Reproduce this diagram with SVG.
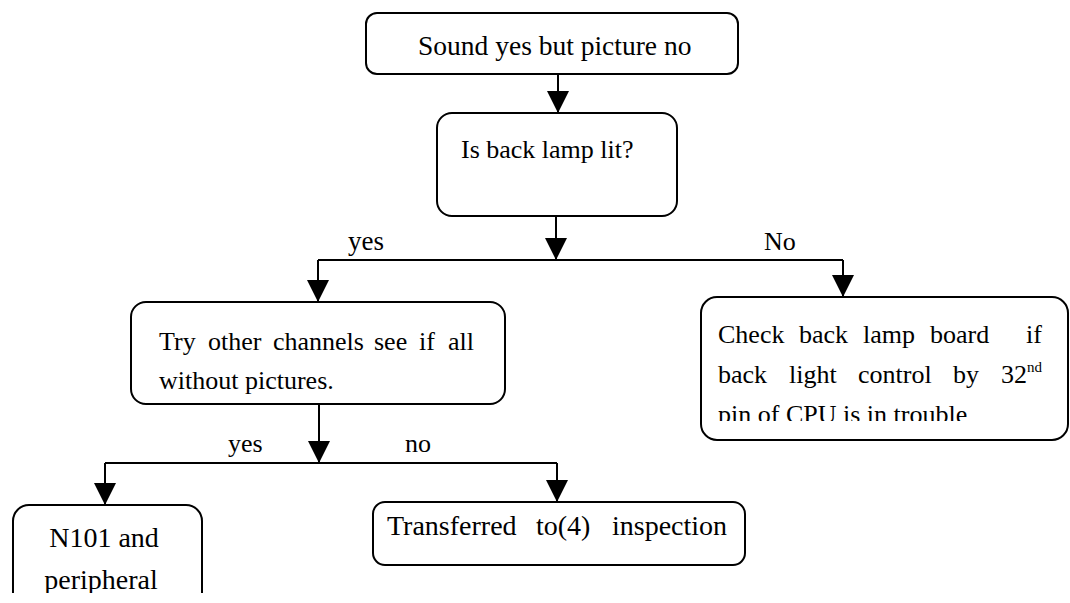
<svg xmlns="http://www.w3.org/2000/svg" width="1070" height="603" viewBox="0 0 1070 603">
<defs>
<style>
.box{fill:#fff;stroke:#000;stroke-width:2}
.ln{fill:none;stroke:#000;stroke-width:2}
</style>
<marker id="ah" markerUnits="userSpaceOnUse" markerWidth="22" markerHeight="22" refX="20" refY="10" orient="auto" viewBox="0 0 20 20">
<path d="M0,0 L20,10 L0,20 Z" fill="#000"/>
</marker>
<clipPath id="clipR"><rect x="700" y="290" width="370" height="131"/></clipPath>
<clipPath id="clipB"><rect x="0" y="0" width="1070" height="593"/></clipPath>
</defs>
<rect width="1070" height="603" fill="#fff"/>
<g font-family="'Liberation Serif', 'Times New Roman', 'DejaVu Serif', serif" font-size="26" fill="#000">
<g id="connectors">
<path class="ln" d="M558,74 V113" marker-end="url(#ah)"/>
<path class="ln" d="M556,216 V260" marker-end="url(#ah)"/>
<path class="ln" d="M318,260 H843"/>
<path class="ln" d="M318,260 V302" marker-end="url(#ah)"/>
<path class="ln" d="M843,260 V297" marker-end="url(#ah)"/>
<text x="348" y="250" font-size="27">yes</text>
<text x="764" y="250">No</text>
<path class="ln" d="M319,404 V463" marker-end="url(#ah)"/>
<path class="ln" d="M105,463 H557"/>
<path class="ln" d="M105,463 V505" marker-end="url(#ah)"/>
<path class="ln" d="M557,463 V502" marker-end="url(#ah)"/>
<text x="228" y="452">yes</text>
<text x="405" y="452">no</text>
</g>
<g id="n1">
<rect class="box" x="366" y="13" width="372" height="61" rx="11"/>
<text x="418" y="55" font-size="27.5">Sound yes but picture no</text>
</g>
<g id="n2">
<rect class="box" x="437" y="113" width="240" height="103" rx="15"/>
<text x="461" y="158">Is back lamp lit?</text>
</g>
<g id="n3">
<rect class="box" x="131" y="302" width="374" height="102" rx="15"/>
<text y="350"><tspan x="159">Try</tspan><tspan x="208">other</tspan><tspan x="273">channels</tspan><tspan x="374">see</tspan><tspan x="419">if</tspan><tspan x="448">all</tspan></text>
<text x="159" y="389">without pictures.</text>
</g>
<g id="n4">
<rect class="box" x="701" y="297" width="367" height="143" rx="16"/>
<text y="343"><tspan x="718">Check</tspan><tspan x="799">back</tspan><tspan x="863">lamp</tspan><tspan x="930">board</tspan><tspan x="1026">if</tspan></text>
<text y="383"><tspan x="718">back</tspan><tspan x="789">light</tspan><tspan x="858">control</tspan><tspan x="953">by</tspan><tspan x="1001">32<tspan font-size="15" dy="-11">nd</tspan></tspan></text>
<g clip-path="url(#clipR)"><text x="718" y="423">pin of CPU is in trouble</text></g>
</g>
<g id="n5" clip-path="url(#clipB)">
<rect class="box" x="13" y="505" width="189" height="120" rx="16"/>
<text x="104" y="547" font-size="28" text-anchor="middle">N101 and</text>
<text x="101" y="589" font-size="28" text-anchor="middle">peripheral</text>
</g>
<g id="n6">
<rect class="box" x="373" y="502" width="372" height="63" rx="12"/>
<text y="535" font-size="28"><tspan x="387">Transferred</tspan><tspan x="536">to(4)</tspan><tspan x="612">inspection</tspan></text>
</g>
</g>
</svg>
